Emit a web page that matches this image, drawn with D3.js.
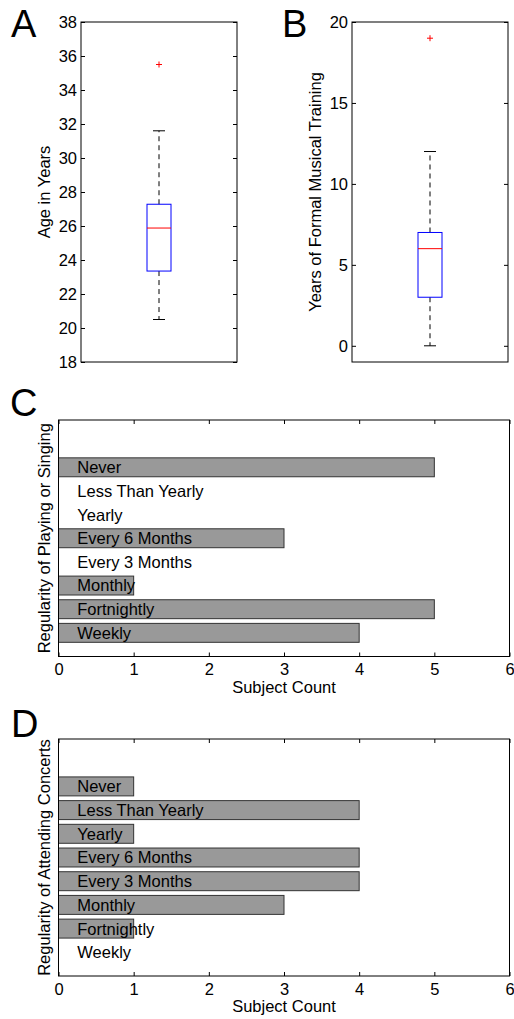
<!DOCTYPE html>
<html>
<head>
<meta charset="utf-8">
<script src="https://cdn.jsdelivr.net/npm/d3@7"></script>
<style>
  body { margin: 0; background: #fff; }
  text { font-family: "Liberation Sans", Arial, sans-serif; }
  .axis path { display: none; }
  .axis line { stroke: #000; }
  .axis text { font-size: 16.5px; fill: #000; }
</style>
</head>
<body>
<div id="chart"></div>
<script>
// box plot summaries
var ageStats = { lo: 20.5, q1: 23.35, med: 25.88, q3: 27.28, hi: 31.6 };
var ageOutliers = [35.5];
var trainStats = { lo: 0, q1: 3, med: 6, q3: 7, hi: 12 };
var trainOutliers = [19];

// bar chart categories, top to bottom
var freqCats = ["Never", "Less Than Yearly", "Yearly", "Every 6 Months",
                "Every 3 Months", "Monthly", "Fortnightly", "Weekly"];
var playCounts = [5, 0, 0, 3, 0, 1, 5, 4];
var concertCounts = [1, 4, 1, 4, 4, 3, 1, 0];

var countTicks = [0, 1, 2, 3, 4, 5, 6];

var W = 514, H = 1019;
var svg = d3.select("#chart").append("svg")
    .attr("width", W)
    .attr("height", H);

function panelLetter(txt, x, y) {
  svg.append("text")
    .attr("x", x).attr("y", y)
    .style("font-size", "38px")
    .text(txt);
}

function boxPanel(box, stats, outliers, domain, ticks, ylabel, labelX) {
  var y = d3.scaleLinear().domain(domain).range([box.bottom, box.top]);
  var cx = (box.left + box.right) / 2;
  var g = svg.append("g");

  // left + right ticks, pointing inward
  g.append("g")
    .attr("class", "axis")
    .attr("transform", "translate(" + box.left + ",0)")
    .call(d3.axisLeft(y).tickValues(ticks).tickFormat(d3.format("d"))
      .tickSizeInner(-4).tickSizeOuter(0).tickPadding(4));
  g.append("g")
    .attr("class", "axis")
    .attr("transform", "translate(" + box.right + ",0)")
    .call(d3.axisRight(y).tickValues(ticks).tickSizeInner(-4).tickSizeOuter(0).tickFormat(""));

  var bw = 24, cw = 12;
  // whiskers
  g.append("line")
    .attr("x1", cx).attr("x2", cx)
    .attr("y1", y(stats.q3)).attr("y2", y(stats.hi))
    .attr("stroke", "#000").attr("stroke-dasharray", "5,4");
  g.append("line")
    .attr("x1", cx).attr("x2", cx)
    .attr("y1", y(stats.q1)).attr("y2", y(stats.lo))
    .attr("stroke", "#000").attr("stroke-dasharray", "5,4");
  [stats.hi, stats.lo].forEach(function(v) {
    g.append("line")
      .attr("x1", cx - cw / 2).attr("x2", cx + cw / 2)
      .attr("y1", y(v)).attr("y2", y(v))
      .attr("stroke", "#000");
  });
  // box
  g.append("rect")
    .attr("x", cx - bw / 2).attr("width", bw)
    .attr("y", y(stats.q3)).attr("height", y(stats.q1) - y(stats.q3))
    .attr("fill", "none").attr("stroke", "#0000ff");
  g.append("line")
    .attr("x1", cx - bw / 2).attr("x2", cx + bw / 2)
    .attr("y1", y(stats.med)).attr("y2", y(stats.med))
    .attr("stroke", "#ff0000");
  // outliers as red +
  outliers.forEach(function(v) {
    g.append("path")
      .attr("d", "M" + (cx - 3) + "," + y(v) + "h6M" + cx + "," + (y(v) - 3) + "v6")
      .attr("stroke", "#ff0000");
  });

  g.append("rect")
    .attr("x", box.left).attr("y", box.top)
    .attr("width", box.right - box.left).attr("height", box.bottom - box.top)
    .attr("fill", "none").attr("stroke", "#000");

  g.append("text")
    .attr("transform", "translate(" + labelX + "," + (box.top + box.bottom) / 2 + ") rotate(-90)")
    .attr("text-anchor", "middle")
    .style("font-size", "16.5px")
    .text(ylabel);
}

function barPanel(box, counts, ylabel) {
  var x = d3.scaleLinear().domain([0, 6]).range([box.left, box.right]);
  var y = d3.scaleLinear().domain([0, 10]).range([box.bottom, box.top]);
  var n = freqCats.length;
  var g = svg.append("g");

  g.append("g")
    .attr("class", "axis")
    .attr("transform", "translate(0," + box.bottom + ")")
    .call(d3.axisBottom(x).tickValues(countTicks).tickFormat(d3.format("d"))
      .tickSizeInner(-4).tickSizeOuter(0).tickPadding(7));
  g.append("g")
    .attr("class", "axis")
    .attr("transform", "translate(0," + box.top + ")")
    .call(d3.axisTop(x).tickValues(countTicks).tickSizeInner(-4).tickSizeOuter(0).tickFormat(""));

  var rows = freqCats.map(function(c, i) { return { cat: c, v: counts[i], pos: n - i }; });

  g.selectAll(".bar")
    .data(rows.filter(function(d) { return d.v > 0; }))
    .enter().append("rect")
      .attr("class", "bar")
      .attr("x", x(0))
      .attr("width", function(d) { return x(d.v) - x(0); })
      .attr("y", function(d) { return y(d.pos + 0.4); })
      .attr("height", function(d) { return y(d.pos - 0.4) - y(d.pos + 0.4); })
      .attr("fill", "#999999")
      .attr("stroke", "#333333");

  g.selectAll(".lab")
    .data(rows)
    .enter().append("text")
      .attr("class", "lab")
      .attr("x", x(0.25))
      .attr("y", function(d) { return y(d.pos); })
      .attr("dy", "0.36em")
      .style("font-size", "16.5px")
      .text(function(d) { return d.cat; });

  g.append("rect")
    .attr("x", box.left).attr("y", box.top)
    .attr("width", box.right - box.left).attr("height", box.bottom - box.top)
    .attr("fill", "none").attr("stroke", "#000");

  g.append("text")
    .attr("x", (box.left + box.right) / 2)
    .attr("y", box.bottom + 36)
    .attr("text-anchor", "middle")
    .style("font-size", "16.5px")
    .text("Subject Count");

  g.append("text")
    .attr("transform", "translate(49.5," + (box.top + box.bottom) / 2 + ") rotate(-90)")
    .attr("text-anchor", "middle")
    .style("font-size", "16.5px")
    .text(ylabel);
}

boxPanel({ left: 81, right: 237, top: 22, bottom: 362 }, ageStats, ageOutliers,
  [18, 38], d3.range(18, 39, 2), "Age in Years", 50);
boxPanel({ left: 352, right: 508, top: 22, bottom: 362 }, trainStats, trainOutliers,
  [-1, 20], [0, 5, 10, 15, 20], "Years of Formal Musical Training", 321);
barPanel({ left: 58.5, right: 509.5, top: 420, bottom: 656.5 }, playCounts,
  "Regularity of Playing or Singing");
barPanel({ left: 58.5, right: 509.5, top: 739, bottom: 976 }, concertCounts,
  "Regularity of Attending Concerts");

panelLetter("A", 11, 37);
panelLetter("B", 282, 37);
panelLetter("C", 10, 416);
panelLetter("D", 11, 737);
</script>
</body>
</html>
